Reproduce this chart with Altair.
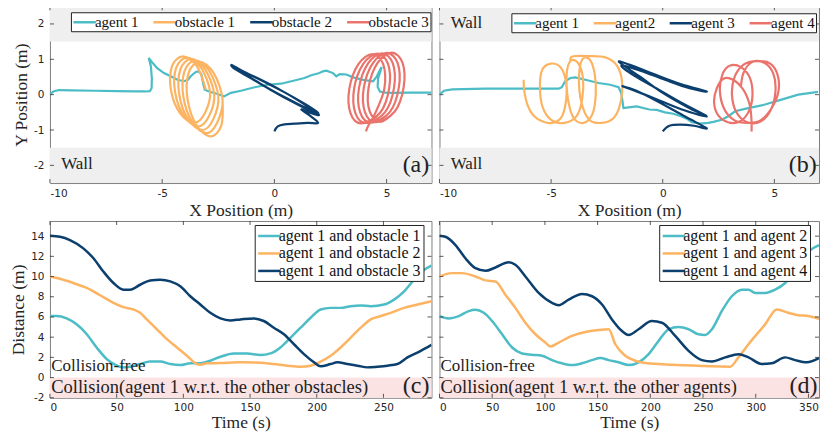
import altair as alt
import pandas as pd

TEAL = "#4CBCC6"
ORANGE = "#FDB462"
NAVY = "#0B3F6E"
RED = "#EA746C"
COLORS = [TEAL, ORANGE, NAVY, RED]

names_a = ["agent 1", "obstacle 1", "obstacle 2", "obstacle 3"]
names_b = ["agent 1", "agent2", "agent 3", "agent 4"]
names_c = ["agent 1 and obstacle 1", "agent 1 and obstacle 2", "agent 1 and obstacle 3"]
names_d = ["agent 1 and agent 2", "agent 1 and agent 3", "agent 1 and agent 4"]

traj_xticks = [-10, -5, 0, 5]
traj_yticks = [-2, -1, 0, 1, 2]
dist_yticks = [-2, 0, 2, 4, 6, 8, 10, 12, 14]
c_xticks = [0, 50, 100, 150, 200, 250]
d_xticks = [0, 50, 100, 150, 200, 250, 300, 350]

# ---------------- panel (a) trajectories ----------------
a_agent1 = [(-10.0, 0.0), (-9.85, 0.09), (-9.6, 0.13), (-9.0, 0.12), (-8.0, 0.11), (-7.0, 0.10),
            (-6.2, 0.09), (-5.75, 0.09), (-5.55, 0.10), (-5.47, 0.18), (-5.46, 0.45), (-5.5, 0.80),
            (-5.6, 1.04), (-5.43, 0.90), (-5.22, 0.75), (-4.92, 0.61), (-4.62, 0.52), (-4.32, 0.42),
            (-4.03, 0.38), (-3.85, 0.42), (-3.73, 0.52), (-3.5, 0.64), (-3.36, 0.66), (-3.25, 0.57),
            (-3.16, 0.28), (-3.10, 0.14), (-2.91, 0.09), (-2.53, 0.02), (-2.24, -0.05), (-1.94, 0.05),
            (-1.49, 0.11), (-0.88, 0.21), (-0.30, 0.28), (0.30, 0.31), (0.89, 0.40), (1.34, 0.47),
            (1.64, 0.55), (2.01, 0.61), (2.16, 0.66), (2.32, 0.68), (2.61, 0.61), (2.76, 0.52),
            (2.91, 0.58), (3.21, 0.57), (3.51, 0.49), (3.96, 0.42), (4.40, 0.38), (4.55, 0.50),
            (4.72, 0.72), (4.78, 0.78), (4.62, 0.45), (4.60, 0.22), (4.70, 0.09), (4.95, 0.06),
            (5.3, 0.05), (6.0, 0.06), (7.0, 0.06)]
a_obst1 = [(-3.05, 0.14), (-3.455, 0.805), (-4.08, 1.08), (-4.559, 0.805), (-4.61, 0.14),
           (-4.205, -0.525), (-3.58, -0.80), (-3.101, -0.525),
           (-2.865, 0.075), (-3.27, 0.764), (-3.895, 1.05), (-4.374, 0.764), (-4.425, 0.075),
           (-4.02, -0.614), (-3.395, -0.90), (-2.916, -0.614),
           (-2.68, 0.005), (-3.085, 0.716), (-3.71, 1.01), (-4.189, 0.716), (-4.24, 0.005),
           (-3.835, -0.706), (-3.21, -1.0), (-2.731, -0.706),
           (-2.495, -0.06), (-2.90, 0.668), (-3.525, 0.97), (-4.004, 0.668), (-4.055, -0.06),
           (-3.65, -0.788), (-3.025, -1.09), (-2.546, -0.788),
           (-2.31, -0.125), (-2.715, 0.621), (-3.34, 0.93), (-3.819, 0.621), (-3.87, -0.125),
           (-3.465, -0.871), (-2.84, -1.18), (-2.361, -0.871), (-2.31, -0.125)]
a_obst2 = [(0.0, -1.04), (0.15, -0.9), (0.45, -0.84), (0.9, -0.82), (1.5, -0.8), (1.95, -0.8),
           (1.6, -0.6), (1.2, -0.42), (1.55, -0.5), (1.98, -0.57), (1.2, -0.22), (0.3, 0.12),
           (-0.6, 0.42), (-1.4, 0.66), (-1.9, 0.84), (-1.75, 0.72), (-1.0, 0.45), (0.0, 0.08),
           (1.0, -0.25), (1.65, -0.45), (1.95, -0.52), (1.4, -0.28), (0.5, 0.05), (-0.5, 0.38),
           (-1.3, 0.62), (-1.85, 0.80), (-1.6, 0.68), (-0.8, 0.38), (0.2, 0.0), (1.1, -0.3),
           (1.7, -0.48), (1.97, -0.55)]
a_obst3 = [(4.08, -1.04), (4.2, -0.86),
           (4.495, -0.523), (4.90, 0.17), (4.849, 0.863), (4.37, 1.15), (3.745, 0.863), (3.34, 0.17),
           (3.391, -0.523), (3.87, -0.81),
           (4.71, -0.513), (5.115, 0.18), (5.064, 0.873), (4.585, 1.16), (3.96, 0.873), (3.555, 0.18),
           (3.606, -0.513), (4.085, -0.80),
           (4.925, -0.503), (5.33, 0.19), (5.279, 0.883), (4.80, 1.17), (4.175, 0.883), (3.77, 0.19),
           (3.821, -0.503), (4.30, -0.79),
           (5.14, -0.493), (5.545, 0.20), (5.494, 0.893), (5.015, 1.18), (4.39, 0.893), (3.985, 0.20),
           (4.036, -0.493), (4.515, -0.78),
           (5.355, -0.483), (5.76, 0.21), (5.709, 0.903), (5.23, 1.19), (4.605, 0.903), (4.20, 0.21),
           (4.251, -0.483), (4.73, -0.77), (5.355, -0.483)]

# ---------------- panel (b) trajectories ----------------
b_agent1 = [(-10.0, 0.0), (-9.8, 0.11), (-9.43, 0.15), (-7.94, 0.17), (-6.45, 0.17), (-4.66, 0.17),
            (-4.52, 0.21), (-4.37, 0.38), (-4.14, 0.47), (-3.92, 0.49), (-3.47, 0.42), (-2.88, 0.33),
            (-2.35, 0.28), (-1.98, 0.21), (-1.86, 0.05), (-1.80, -0.19), (-1.76, -0.38), (-1.54, -0.36),
            (-1.16, -0.33), (-0.6, -0.42), (-0.27, -0.43), (0.1, -0.5), (0.48, -0.54), (0.85, -0.62),
            (1.07, -0.68), (1.3, -0.78), (1.67, -0.82), (2.04, -0.80), (2.27, -0.77), (2.64, -0.71),
            (2.94, -0.61), (3.24, -0.47), (3.83, -0.38), (4.58, -0.28), (5.32, -0.14), (6.07, 0.0),
            (6.96, 0.08)]
b_agent2 = [(-6.23, 0.42), (-6.2, 0.1), (-6.05, -0.3), (-5.8, -0.58), (-5.4, -0.75), (-4.95, -0.8),
            (-4.55, -0.65), (-4.35, -0.25), (-4.32, 0.3), (-4.55, 0.75), (-5.0, 0.88), (-5.4, 0.7),
            (-5.5, 0.2), (-5.38, -0.35), (-4.98, -0.72), (-4.4, -0.8), (-3.85, -0.6), (-3.6, -0.1),
            (-3.58, 0.5), (-3.8, 0.9), (-4.12, 0.96), (-4.3, 0.6), (-4.25, -0.1), (-4.0, -0.65),
            (-3.55, -0.8), (-3.15, -0.55), (-3.0, 0.0), (-3.05, 0.6), (-3.28, 1.0), (-3.6, 1.0),
            (-3.75, 0.5), (-3.65, -0.2), (-3.3, -0.7), (-2.75, -0.8), (-2.2, -0.66), (-1.9, -0.25),
            (-1.82, 0.35), (-2.05, 0.82), (-2.55, 1.05), (-3.3, 1.09), (-4.05, 1.08), (-4.12, 0.95)]
b_agent3 = [(0.0, -1.04), (0.3, -0.88), (0.8, -0.85), (1.4, -0.88), (1.97, -0.95), (1.0, -0.62),
            (-0.2, -0.2), (-1.2, 0.12), (-1.8, 0.24), (-1.4, 0.15), (-0.2, -0.15), (1.0, -0.45),
            (1.97, -0.62), (1.1, -0.35), (0.0, 0.05), (-1.0, 0.5), (-1.95, 0.92), (-1.5, 0.85),
            (-0.4, 0.58), (0.8, 0.3), (1.97, 0.09), (1.2, 0.18), (0.1, 0.42), (-1.0, 0.68),
            (-1.85, 0.82), (-1.3, 0.55), (-0.2, 0.15), (0.9, -0.25), (1.97, -0.6)]
b_agent4 = [(3.98, -1.04), (3.97, -0.65), (3.88, -0.25), (3.6, 0.15), (3.15, 0.42), (2.72, 0.45),
            (2.42, 0.18), (2.3, -0.22), (2.48, -0.58), (2.92, -0.78), (3.45, -0.76), (3.85, -0.48),
            (4.02, -0.02), (3.9, 0.48), (3.5, 0.78), (3.0, 0.82), (2.68, 0.58), (2.56, 0.12),
            (2.75, -0.4), (3.2, -0.72), (3.8, -0.8), (4.4, -0.72), (4.88, -0.38), (5.18, 0.08),
            (5.15, 0.55), (4.82, 0.88), (4.22, 0.95), (3.62, 0.85), (3.22, 0.5), (3.1, 0.0),
            (3.3, -0.5), (3.78, -0.78), (4.38, -0.76), (4.85, -0.42), (5.05, 0.1), (4.95, 0.6),
            (4.55, 0.9), (4.0, 0.92), (3.62, 0.62), (3.5, 0.2)]

# ---------------- panel (c) distances ----------------
c_d1 = [(0, 6.09), (5, 6.09), (12.5, 5.86), (20, 5.27), (27.6, 4.29), (35, 2.98), (42.6, 1.83),
        (48.8, 1.28), (55, 1.01), (60, 1.08), (67.6, 1.34), (75, 1.60), (82.7, 1.60), (90.2, 1.34),
        (97.7, 1.24), (105.2, 1.41), (112.7, 1.41), (120.2, 1.67), (127.8, 2.06), (137.8, 2.39),
        (147.8, 2.39), (157.8, 2.23), (165.3, 2.39), (172.8, 2.98), (180.4, 3.96), (187.9, 4.94),
        (195.4, 5.92), (202.9, 6.74), (210.4, 6.90), (217.9, 6.90), (225.5, 7.07), (233, 7.13),
        (240.5, 7.07), (250.5, 7.23), (258, 7.72), (265.5, 8.54), (273, 9.69), (280.6, 10.67),
        (286, 11.09)]
c_d2 = [(0, 10.01), (7.5, 9.78), (17.5, 9.36), (27.6, 8.87), (37.6, 8.15), (47.6, 7.40), (55.1, 6.97),
        (62.6, 6.74), (67.6, 6.41), (72.6, 5.76), (80.2, 4.78), (87.7, 3.80), (95.2, 2.98),
        (102.7, 2.16), (110.2, 1.34), (112.7, 1.28), (117.7, 1.41), (127.8, 1.44), (142.8, 1.51),
        (157.8, 1.47), (167.8, 1.34), (177.9, 1.18), (187.9, 1.08), (195.4, 1.18), (202.9, 1.57),
        (210.4, 2.16), (217.9, 2.98), (225.5, 3.96), (233, 4.94), (240.5, 5.76), (248, 6.09),
        (255.5, 6.41), (265.5, 6.90), (275.6, 7.23), (286, 7.56)]
c_d3 = [(0, 14.04), (7.5, 13.94), (15, 13.61), (25, 12.79), (32.6, 11.81), (40, 10.50), (47.6, 9.36),
        (55.1, 8.70), (60, 8.70), (67.6, 9.19), (75.1, 9.62), (82.7, 9.69), (90.2, 9.52), (97.7, 9.03),
        (105.2, 8.05), (112.7, 7.23), (120.2, 6.41), (127.8, 5.86), (135.3, 5.66), (142.8, 5.76),
        (152.8, 5.86), (160.3, 5.60), (167.8, 4.94), (175.4, 4.29), (182.9, 3.30), (190.4, 2.32),
        (197.9, 1.51), (202.9, 1.11), (210.4, 1.34), (215.4, 1.51), (222.9, 1.34), (230.5, 1.18),
        (238, 1.01), (245.5, 1.08), (253, 1.18), (260.5, 1.34), (268, 2.00), (278, 2.65), (286, 3.24)]

# ---------------- panel (d) distances ----------------
d_d1 = [(0, 6.09), (8.8, 5.86), (18.3, 6.09), (27.8, 6.58), (34.1, 6.71), (42, 6.41), (49.9, 5.60),
        (59.4, 4.29), (68.9, 2.98), (78.3, 2.39), (87.8, 2.26), (97.3, 2.16), (106.8, 1.73),
        (116.2, 1.41), (125.7, 1.24), (135.2, 1.41), (144.7, 1.73), (152.6, 1.93), (160.5, 1.73),
        (170, 1.51), (179.4, 1.24), (188.9, 1.51), (198.4, 2.32), (207.8, 3.63), (217.3, 4.78),
        (226.8, 5.01), (236.3, 4.78), (245.7, 4.29), (252, 4.22), (258.4, 4.78), (267.8, 6.58),
        (277.3, 8.05), (286.8, 8.70), (293.1, 8.70), (299.4, 8.38), (308.9, 8.38), (318.4, 8.70),
        (327.9, 9.36), (337.3, 10.50), (346.8, 12.14), (360, 13.12)]
d_d2 = [(0, 10.01), (12, 10.34), (21.5, 10.34), (34.1, 10.01), (43.6, 9.62), (53.1, 9.52),
        (62.5, 8.21), (72, 6.90), (81.5, 5.43), (91, 4.29), (100.4, 3.47), (105.2, 3.08),
        (113.1, 3.47), (125.7, 4.12), (138.3, 4.52), (150.9, 4.71), (160.5, 4.78), (166.8, 3.30),
        (176.2, 2.16), (185.7, 1.67), (195.2, 1.44), (207.8, 1.34), (220.5, 1.28), (233.1, 1.21),
        (245.7, 1.18), (258.4, 1.11), (275.7, 1.08), (283.6, 2.00), (293.1, 3.30), (308.9, 5.27),
        (320, 6.74), (331, 6.41), (340.5, 6.18), (349.9, 6.09), (360, 5.82)]
d_d3 = [(0, 14.04), (5.7, 13.94), (15.2, 13.12), (24.6, 11.81), (34.1, 10.83), (43.6, 10.57),
        (53.1, 10.90), (65.7, 11.42), (72, 11.16), (81.5, 10.01), (94.1, 8.38), (106.8, 7.40),
        (113.1, 7.17), (122.6, 7.72), (135.2, 8.28), (144.7, 8.05), (154.2, 7.23), (163.6, 5.76),
        (173.1, 4.61), (179.4, 4.22), (188.9, 4.78), (201.5, 5.60), (211, 5.43), (223.6, 4.12),
        (236.3, 2.65), (248.9, 1.73), (258.4, 1.60), (271, 2.00), (283.6, 2.32), (293.1, 2.00),
        (305.8, 1.34), (315.2, 1.41), (327.9, 2.00), (337.3, 1.73), (348.4, 1.51), (360, 1.93)]

# annotations: (x, y, text, font size)
a_notes = [(-9.5, -1.97, "Wall", 17)]
b_notes = [(-9.5, 2.03, "Wall", 17), (-9.5, -1.97, "Wall", 17)]
a_tag = [(6.9, -1.98, "(a)", 24)]
b_tag = [(6.9, -1.98, "(b)", 24)]
c_notes = [(1.0, 1.15, "Collision-free", 17),
           (1.0, -0.95, "Collision(agent 1 w.r.t. the other obstacles)", 18.5)]
d_notes = [(1.0, 1.15, "Collision-free", 17),
           (1.0, -0.95, "Collision(agent 1 w.r.t. the other agents)", 18.5)]
c_tag = [(284.5, -0.85, "(c)", 24)]
d_tag = [(358.5, -0.85, "(d)", 24)]

W_L, W_R, H = 382, 380, 177
SERIF = "Liberation Serif"
TICK_COLOR = "#333333"
# legend line glyph: a 22.5 px long stroke
LINE_GLYPH = "M-1,0H2"


def to_df(series, names):
    rows = []
    for name, pts in zip(names, series):
        for i, (x, y) in enumerate(pts):
            rows.append({"s": name, "o": i, "x": x, "y": y})
    return pd.DataFrame(rows)


def notes_df(notes):
    return pd.DataFrame([{"x": x, "y": y, "t": t, "f": f} for x, y, t, f in notes])


def tick_layers(xticks, yticks, W, X, Y):
    tx = pd.DataFrame({"x": xticks})
    ty = pd.DataFrame({"y": yticks})
    kw = dict(color=TICK_COLOR, strokeWidth=0.8)
    return [
        alt.Chart(tx).mark_rule(**kw).encode(x=X, y=alt.value(H), y2=alt.value(H - 4)),
        alt.Chart(tx).mark_rule(**kw).encode(x=X, y=alt.value(0), y2=alt.value(4)),
        alt.Chart(ty).mark_rule(**kw).encode(y=Y, x=alt.value(0), x2=alt.value(4)),
        alt.Chart(ty).mark_rule(**kw).encode(y=Y, x=alt.value(W), x2=alt.value(W - 4)),
    ]


def make_panel(kind, series, names, W, left, xdom, xticks, yticks, band, band_color, notes, tag, legend):
    xs = alt.Scale(domain=xdom, nice=False, zero=False)
    ydom = [-2.5, 2.5] if kind == "traj" else [-2, 15.5]
    ys = alt.Scale(domain=ydom, nice=False, zero=False)
    xtitle = "X Position (m)" if kind == "traj" else "Time (s)"
    ytitle = "Y Position (m)" if kind == "traj" else "Distance (m)"
    lab = "toString(datum.value)"
    xtp = 3 if kind == "traj" else 0
    xaxis = alt.Axis(values=xticks, title=xtitle, labelPadding=5, titlePadding=xtp,
                     titleFontWeight="normal", labelExpr=lab)
    yaxis = (alt.Axis(values=yticks, title=ytitle, labelPadding=6, titlePadding=3,
                      titleFontWeight="normal", labelExpr=lab) if left else None)
    X = alt.X("x:Q", scale=xs, axis=xaxis)
    Y = alt.Y("y:Q", scale=ys, axis=yaxis)

    layers = []
    layers.append(alt.Chart(pd.DataFrame(band)).mark_rect(color=band_color)
                  .encode(x=X, x2="x2:Q", y=Y, y2="y2:Q"))

    df = to_df(series, names)
    color = alt.Color("s:N", scale=alt.Scale(domain=names, range=COLORS[:len(names)]), legend=legend)
    if kind == "traj":
        first = names[0]
        layers.append(alt.Chart(df).transform_filter(alt.datum.s == first)
                      .mark_line(strokeWidth=2.2, clip=True)
                      .encode(x=X, y=Y, color=color, order="o:Q", detail="s:N"))
        layers.append(alt.Chart(df).transform_filter(alt.datum.s != first)
                      .mark_line(strokeWidth=2.2, interpolate="cardinal", clip=True)
                      .encode(x=X, y=Y, color=color, order="o:Q", detail="s:N"))
    else:
        layers.append(alt.Chart(df).mark_line(strokeWidth=2.5, interpolate="monotone", clip=True)
                      .encode(x=X, y=Y, color=color, order="o:Q", detail="s:N"))

    layers.append(alt.Chart(notes_df(notes))
                  .mark_text(align="left", baseline="middle", font=SERIF, color="#222222")
                  .encode(x=X, y=Y, text="t:N", size=alt.Size("f:Q", scale=None, legend=None)))
    layers.append(alt.Chart(notes_df(tag))
                  .mark_text(align="right", baseline="middle", font=SERIF, color="#222222")
                  .encode(x=X, y=Y, text="t:N", size=alt.Size("f:Q", scale=None, legend=None)))
    layers += tick_layers(xticks, yticks, W, X, Y)
    return alt.layer(*layers).properties(width=W, height=H)


wall = [{"x": -10, "x2": 7, "y": 1.5, "y2": 2.5},
        {"x": -10, "x2": 7, "y": -2.5, "y2": -1.5}]
band_c = [{"x": 0, "x2": 286, "y": -2, "y2": 0}]
band_d = [{"x": 0, "x2": 360, "y": -2, "y2": 0}]
WALL_COLOR = "#EFEFEF"
BAND_COLOR = "#FBE3E3"


def hleg(lx, ly):
    return alt.Legend(orient="none", legendX=lx, legendY=ly, direction="horizontal", columns=4,
                      title=None, labelFontSize=15, columnPadding=9, labelOffset=5, padding=1,
                      symbolType=LINE_GLYPH, symbolSize=225)


def vleg(lx, ly):
    return alt.Legend(orient="none", legendX=lx, legendY=ly, direction="vertical", columns=1,
                      title=None, labelFontSize=16, rowPadding=0.5, labelOffset=4, padding=2,
                      symbolType=LINE_GLYPH, symbolSize=225)


pa = make_panel("traj", [a_agent1, a_obst1, a_obst2, a_obst3], names_a, W_L, True, [-10, 7],
                traj_xticks, traj_yticks, wall, WALL_COLOR, a_notes, a_tag, hleg(21, 6))
pb = make_panel("traj", [b_agent1, b_agent2, b_agent3, b_agent4], names_b, W_R, False, [-10, 7],
                traj_xticks, traj_yticks, wall, WALL_COLOR, b_notes, b_tag, hleg(72, 7))
pc = make_panel("dist", [c_d1, c_d2, c_d3], names_c, W_L, True, [0, 286],
                c_xticks, dist_yticks, band_c, BAND_COLOR, c_notes, c_tag, vleg(205, 4))
pd_ = make_panel("dist", [d_d1, d_d2, d_d3], names_d, W_R, False, [0, 360],
                 d_xticks, dist_yticks, band_d, BAND_COLOR, d_notes, d_tag, vleg(220, 4))

chart = (alt.concat(pa, pb, pc, pd_, columns=2, spacing={"row": 38, "column": 8}, bounds="flush")
         .resolve_scale(color="independent")
         .properties(padding={"left": 1, "right": 2, "top": -3, "bottom": 0})
         .configure_view(stroke="#808080", strokeWidth=1)
         .configure_axis(domain=False, grid=False, ticks=False,
                         labelFont="DejaVu Sans", labelFontSize=10.5, labelColor="#262626",
                         titleFont=SERIF, titleFontSize=17.5, titleFontWeight="normal",
                         titleColor="#262626")
         .configure_legend(labelFont=SERIF, labelColor="#111111", strokeColor="#222222",
                           fillColor="white", symbolStrokeWidth=2.5))

chart.save("out.html", embed_options={"renderer": "svg", "actions": False})
